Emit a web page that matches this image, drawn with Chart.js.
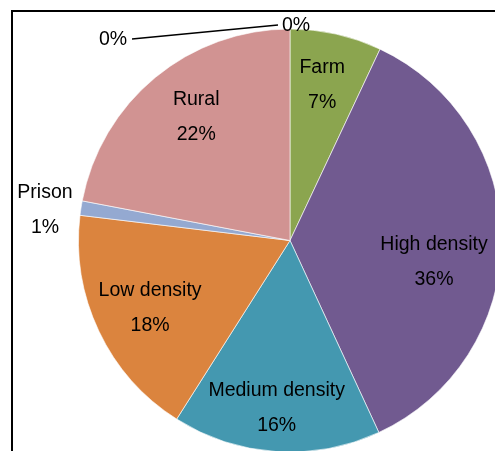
<!DOCTYPE html>
<html>
<head>
<meta charset="utf-8">
<script src="https://cdn.jsdelivr.net/npm/chart.js@4.4.1/dist/chart.umd.min.js"></script>
<style>
  html, body { margin: 0; padding: 0; background: #fff; overflow: hidden; }
  .wrap { position: absolute; left: 0; top: 0; width: 600px; height: 500px; }
</style>
</head>
<body>
<div class="wrap"><canvas id="pie"></canvas></div>
<script>
// land use categories, clockwise from 12 o'clock
const categories = ['Farm', 'High density', 'Medium density', 'Low density', 'Prison', 'Rural', 'Industrial', 'Commercial'];
const shares = [7.0, 36.1, 15.9, 17.9, 1.1, 22.0, 0, 0];
const showName = [true, true, true, true, true, true, false, false];
const sliceColors = ['#8BA54F', '#715A90', '#4498B0', '#DB843E', '#94A9D1', '#D19392', '#4F81BD', '#C0504D'];

// where each label sits: fraction of radius along the slice middle, then a small nudge
const labelPlace = [
  { f: 0.74, dx: -2, dy: -3 },
  { f: 0.74, dx: -12.5, dy: 21 },
  { f: 0.74, dx: -3, dy: 11 },
  { f: 0.74, dx: 1.5, dy: 1 },
  { f: 1, dx: -36, dy: 2 },
  { f: 0.74, dx: 6, dy: -3 },
  { f: 1, dx: -177, dy: 10.5, leader: [-158, 10, -12, -4] },
  { f: 1, dx: 6, dy: -3.5 }
];

const FONT = '19.5px "Liberation Sans", Arial, sans-serif';

const labelPlugin = {
  id: 'sliceLabels',
  afterDatasetsDraw(chart) {
    const ctx = chart.ctx;
    const meta = chart.getDatasetMeta(0);
    const total = shares.reduce((a, b) => a + b, 0);
    ctx.save();
    ctx.font = FONT;
    ctx.fillStyle = '#000';
    ctx.textAlign = 'center';
    ctx.textBaseline = 'middle';
    meta.data.forEach((arc, i) => {
      const p = arc.getProps(['x', 'y', 'startAngle', 'endAngle', 'outerRadius'], true);
      const mid = (p.startAngle + p.endAngle) / 2;
      const place = labelPlace[i];
      const ex = p.x + Math.cos(mid) * p.outerRadius * place.f;
      const ey = p.y + Math.sin(mid) * p.outerRadius * place.f;
      const lx = ex + place.dx;
      const ly = ey + place.dy;
      const pct = Math.round(shares[i] / total * 100) + '%';
      if (showName[i]) {
        ctx.fillText(categories[i], lx, ly - 17.5);
        ctx.fillText(pct, lx, ly + 17.5);
      } else {
        ctx.fillText(pct, lx, ly);
      }
      if (place.leader) {
        const l = place.leader;
        ctx.beginPath();
        ctx.strokeStyle = '#000';
        ctx.lineWidth = 1.5;
        ctx.moveTo(ex + l[0], ey + l[1]);
        ctx.lineTo(ex + l[2], ey + l[3]);
        ctx.stroke();
      }
    });
    ctx.restore();
  },
  afterDraw(chart) {
    // plot frame, only top and left edges visible
    const ctx = chart.ctx;
    ctx.save();
    ctx.strokeStyle = '#000';
    ctx.lineWidth = 2;
    ctx.beginPath();
    ctx.moveTo(12, 600);
    ctx.lineTo(12, 11);
    ctx.lineTo(700, 11);
    ctx.stroke();
    ctx.restore();
  }
};

new Chart(document.getElementById('pie'), {
  type: 'pie',
  data: {
    labels: categories,
    datasets: [{
      data: shares,
      backgroundColor: sliceColors,
      borderColor: 'rgba(255,255,255,0.6)',
      borderWidth: shares.map(v => (v > 0 ? 1 : 0)),
      radius: 211.5
    }]
  },
  options: {
    responsive: true,
    maintainAspectRatio: false,
    animation: false,
    layout: { padding: { left: 78, top: 28.5, right: 98, bottom: 47.5 } },
    plugins: {
      legend: { display: false },
      tooltip: { enabled: false }
    }
  },
  plugins: [labelPlugin]
});
</script>
</body>
</html>
